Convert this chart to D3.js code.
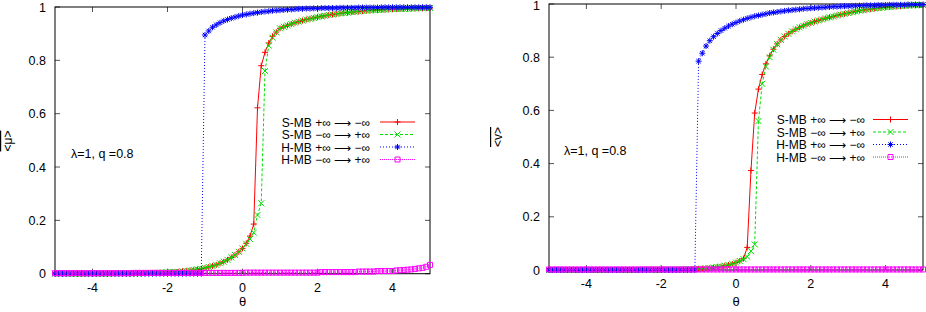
<!DOCTYPE html>
<html>
<head>
<meta charset="utf-8">
<script src="https://cdn.jsdelivr.net/npm/d3@7"></script>
<style>
  body { margin: 0; background: #fff; }
  svg { display: block; }
  text { font-family: "Liberation Sans", Arial, sans-serif; }
</style>
</head>
<body>
<div id="svg_container"></div>
<script>
// theta grid (x values)
const theta = [
  -5, -4.9, -4.8, -4.7, -4.6, -4.5, -4.4, -4.3, -4.2, -4.1,
  -4, -3.9, -3.8, -3.7, -3.6, -3.5, -3.4, -3.3, -3.2, -3.1,
  -3, -2.9, -2.8, -2.7, -2.6, -2.5, -2.4, -2.3, -2.2, -2.1,
  -2, -1.9, -1.8, -1.7, -1.6, -1.5, -1.4, -1.3, -1.2, -1.1,
  -1, -0.9, -0.8, -0.7, -0.6, -0.5, -0.4, -0.3, -0.2, -0.1,
  0, 0.1, 0.2, 0.3, 0.4, 0.5, 0.6, 0.7, 0.8, 0.9,
  1, 1.1, 1.2, 1.3, 1.4, 1.5, 1.6, 1.7, 1.8, 1.9,
  2, 2.1, 2.2, 2.3, 2.4, 2.5, 2.6, 2.7, 2.8, 2.9,
  3, 3.1, 3.2, 3.3, 3.4, 3.5, 3.6, 3.7, 3.8, 3.9,
  4, 4.1, 4.2, 4.3, 4.4, 4.5, 4.6, 4.7, 4.8, 4.9,
  5
];

// left panel: <mu>
const muSdown = [
  0, 0, 0, 0, 0, 0, 0, 0, 0, 0,
  0, 0, 0, 0, 0, 0.001, 0.001, 0.001, 0.001, 0.001,
  0.001, 0.001, 0.001, 0.002, 0.002, 0.002, 0.003, 0.003, 0.004, 0.004,
  0.005, 0.006, 0.006, 0.007, 0.009, 0.010, 0.012, 0.014, 0.016, 0.018,
  0.021, 0.025, 0.029, 0.033, 0.039, 0.045, 0.052, 0.061, 0.070, 0.082,
  0.095, 0.114, 0.141, 0.186, 0.622, 0.780, 0.830, 0.865, 0.890, 0.906,
  0.920, 0.926, 0.931, 0.936, 0.941, 0.945, 0.949, 0.953, 0.956, 0.959,
  0.962, 0.965, 0.967, 0.970, 0.972, 0.974, 0.976, 0.978, 0.979, 0.981,
  0.982, 0.983, 0.985, 0.986, 0.987, 0.988, 0.989, 0.989, 0.990, 0.991,
  0.992, 0.992, 0.993, 0.993, 0.994, 0.994, 0.995, 0.995, 0.995, 0.996,
  0.996
];
const muSup = [
  0, 0, 0, 0, 0, 0, 0, 0, 0, 0,
  0, 0, 0, 0, 0, 0.001, 0.001, 0.001, 0.001, 0.001,
  0.001, 0.001, 0.001, 0.002, 0.002, 0.002, 0.003, 0.003, 0.004, 0.004,
  0.005, 0.006, 0.006, 0.007, 0.009, 0.010, 0.012, 0.014, 0.016, 0.018,
  0.021, 0.025, 0.029, 0.033, 0.039, 0.045, 0.052, 0.061, 0.070, 0.082,
  0.095, 0.112, 0.130, 0.154, 0.220, 0.264, 0.760, 0.855, 0.885, 0.905,
  0.920, 0.926, 0.931, 0.936, 0.941, 0.945, 0.949, 0.953, 0.956, 0.959,
  0.962, 0.965, 0.967, 0.970, 0.972, 0.974, 0.976, 0.978, 0.979, 0.981,
  0.982, 0.983, 0.985, 0.986, 0.987, 0.988, 0.989, 0.989, 0.990, 0.991,
  0.992, 0.992, 0.993, 0.993, 0.994, 0.994, 0.995, 0.995, 0.995, 0.996,
  0.996
];
const muHdown = [
  0, 0, 0, 0, 0, 0, 0, 0, 0, 0,
  0, 0, 0, 0, 0, 0, 0, 0, 0, 0,
  0, 0, 0, 0, 0, 0, 0, 0, 0, 0,
  0, 0, 0, 0, 0, 0, 0, 0, 0, 0,
  0.895, 0.910, 0.924, 0.933, 0.941, 0.948, 0.953, 0.958, 0.962, 0.966,
  0.970, 0.972, 0.975, 0.977, 0.979, 0.981, 0.983, 0.984, 0.986, 0.987,
  0.988, 0.989, 0.990, 0.991, 0.992, 0.993, 0.993, 0.994, 0.994, 0.995,
  0.995, 0.996, 0.996, 0.996, 0.996, 0.996, 0.997, 0.997, 0.997, 0.997,
  0.997, 0.998, 0.998, 0.998, 0.998, 0.998, 0.998, 0.999, 0.999, 0.999,
  0.999, 0.999, 0.999, 0.999, 0.999, 0.999, 0.999, 0.999, 0.999, 0.999,
  0.999
];
const muHup = [
  0.002, 0.002, 0.002, 0.002, 0.002, 0.002, 0.002, 0.002, 0.002, 0.002,
  0.002, 0.002, 0.002, 0.002, 0.002, 0.002, 0.002, 0.002, 0.002, 0.002,
  0.002, 0.003, 0.003, 0.003, 0.003, 0.003, 0.003, 0.003, 0.003, 0.003,
  0.003, 0.003, 0.003, 0.003, 0.003, 0.003, 0.003, 0.003, 0.003, 0.003,
  0.003, 0.003, 0.003, 0.003, 0.003, 0.003, 0.003, 0.003, 0.003, 0.003,
  0.003, 0.004, 0.004, 0.004, 0.004, 0.004, 0.004, 0.004, 0.004, 0.004,
  0.004, 0.004, 0.004, 0.004, 0.004, 0.004, 0.004, 0.004, 0.004, 0.004,
  0.004, 0.006, 0.006, 0.006, 0.006, 0.006, 0.006, 0.006, 0.006, 0.006,
  0.006, 0.008, 0.008, 0.008, 0.008, 0.008, 0.010, 0.010, 0.010, 0.010,
  0.010, 0.012, 0.013, 0.014, 0.015, 0.016, 0.018, 0.020, 0.022, 0.026,
  0.033
];

// right panel: <v> bar
const vSdown = [
  0, 0, 0, 0, 0, 0, 0, 0, 0, 0,
  0, 0, 0, 0, 0, 0, 0, 0, 0, 0,
  0, 0, 0, 0, 0, 0.001, 0.001, 0.001, 0.001, 0.001,
  0.001, 0.001, 0.001, 0.001, 0.001, 0.002, 0.002, 0.002, 0.003, 0.003,
  0.004, 0.005, 0.006, 0.007, 0.009, 0.011, 0.013, 0.016, 0.019, 0.023,
  0.028, 0.034, 0.043, 0.085, 0.374, 0.590, 0.680, 0.735, 0.775, 0.805,
  0.830, 0.850, 0.865, 0.878, 0.888, 0.897, 0.905, 0.912, 0.918, 0.924,
  0.929, 0.934, 0.938, 0.942, 0.946, 0.950, 0.953, 0.957, 0.960, 0.963,
  0.966, 0.969, 0.972, 0.975, 0.977, 0.979, 0.981, 0.983, 0.985, 0.986,
  0.988, 0.989, 0.990, 0.991, 0.992, 0.993, 0.994, 0.995, 0.995, 0.996,
  0.996
];
const vSup = [
  0, 0, 0, 0, 0, 0, 0, 0, 0, 0,
  0, 0, 0, 0, 0, 0, 0, 0, 0, 0,
  0, 0, 0, 0, 0, 0.001, 0.001, 0.001, 0.001, 0.001,
  0.001, 0.001, 0.001, 0.001, 0.001, 0.002, 0.002, 0.002, 0.003, 0.003,
  0.004, 0.005, 0.006, 0.007, 0.009, 0.011, 0.013, 0.016, 0.019, 0.023,
  0.028, 0.034, 0.041, 0.050, 0.071, 0.096, 0.560, 0.700, 0.765, 0.800,
  0.828, 0.849, 0.865, 0.878, 0.888, 0.897, 0.905, 0.912, 0.918, 0.924,
  0.929, 0.934, 0.938, 0.942, 0.946, 0.950, 0.953, 0.957, 0.960, 0.963,
  0.966, 0.969, 0.972, 0.975, 0.977, 0.979, 0.981, 0.983, 0.985, 0.986,
  0.988, 0.989, 0.990, 0.991, 0.992, 0.993, 0.994, 0.995, 0.995, 0.996,
  0.996
];
const vHdown = [
  0, 0, 0, 0, 0, 0, 0, 0, 0, 0,
  0, 0, 0, 0, 0, 0, 0, 0, 0, 0,
  0, 0, 0, 0, 0, 0, 0, 0, 0, 0,
  0, 0, 0, 0, 0, 0, 0, 0, 0, 0,
  0.785, 0.815, 0.842, 0.862, 0.877, 0.889, 0.900, 0.909, 0.917, 0.924,
  0.930, 0.936, 0.941, 0.946, 0.950, 0.954, 0.957, 0.960, 0.963, 0.966,
  0.968, 0.970, 0.972, 0.974, 0.976, 0.977, 0.979, 0.980, 0.982, 0.983,
  0.984, 0.985, 0.986, 0.987, 0.988, 0.989, 0.990, 0.990, 0.991, 0.992,
  0.992, 0.993, 0.993, 0.994, 0.994, 0.995, 0.995, 0.995, 0.996, 0.996,
  0.996, 0.997, 0.997, 0.997, 0.997, 0.997, 0.998, 0.998, 0.998, 0.998,
  0.998
];
const vHup = [
  0.002, 0.002, 0.002, 0.002, 0.002, 0.002, 0.002, 0.002, 0.002, 0.002,
  0.002, 0.002, 0.002, 0.002, 0.002, 0.002, 0.002, 0.002, 0.002, 0.002,
  0.002, 0.002, 0.002, 0.002, 0.002, 0.002, 0.002, 0.002, 0.002, 0.002,
  0.002, 0.002, 0.002, 0.002, 0.002, 0.002, 0.002, 0.002, 0.002, 0.002,
  0.002, 0.002, 0.002, 0.002, 0.002, 0.002, 0.002, 0.002, 0.002, 0.002,
  0.002, 0.002, 0.002, 0.002, 0.002, 0.002, 0.002, 0.002, 0.002, 0.002,
  0.002, 0.002, 0.002, 0.002, 0.002, 0.002, 0.002, 0.002, 0.002, 0.002,
  0.002, 0.002, 0.002, 0.002, 0.002, 0.002, 0.002, 0.002, 0.002, 0.002,
  0.002, 0.002, 0.002, 0.002, 0.002, 0.002, 0.002, 0.002, 0.002, 0.002,
  0.002, 0.002, 0.002, 0.002, 0.002, 0.002, 0.002, 0.002, 0.002, 0.002,
  0.002
];

const legendLabels = ["S-MB +\u221E \u27F6 \u2212\u221E", "S-MB \u2212\u221E \u27F6 +\u221E",
                      "H-MB +\u221E \u27F6 \u2212\u221E", "H-MB \u2212\u221E \u27F6 +\u221E"];
const xTicks = [-4, -2, 0, 2, 4];
const yTicks = [0, 0.2, 0.4, 0.6, 0.8, 1];
const annotation = "\u03BB=1, q =0.8";

const styles = [
    {color: "#ff0000", dash: null, marker: "plus"},
    {color: "#00e000", dash: "3,2", marker: "cross"},
    {color: "#0000ff", dash: "1,2", marker: "star"},
    {color: "#ff00ff", dash: "1,1", marker: "square"}
];

function markerPath(type) {
    let s = 3;
    if (type === "plus") return "M" + (-s) + ",0H" + s + "M0," + (-s) + "V" + s;
    if (type === "cross") return "M" + (-s) + "," + (-s) + "L" + s + "," + s + "M" + (-s) + "," + s + "L" + s + "," + (-s);
    if (type === "star") return "M-3,0H3M0,-3V3M-2.2,-2.2L2.2,2.2M-2.2,2.2L2.2,-2.2";
    return "M-2.5,-2.5H2.5V2.5H-2.5Z";
}

let svg = d3.select("#svg_container")
    .append("svg")
    .attr("width", 926)
    .attr("height", 312);

function drawPanel(p) {
    let x = d3.scaleLinear().domain([-5, 5]).range([p.left, p.right]);
    let y = d3.scaleLinear().domain([0, 1]).range([p.bottom, p.top]);
    let g = svg.append("g");

    // ticks (inside, mirrored)
    xTicks.forEach(function (t) {
        g.append("line").attr("x1", x(t)).attr("x2", x(t)).attr("y1", p.bottom).attr("y2", p.bottom - 5)
            .attr("stroke", "#555");
        g.append("line").attr("x1", x(t)).attr("x2", x(t)).attr("y1", p.top).attr("y2", p.top + 5)
            .attr("stroke", "#555");
        g.append("text").attr("x", x(t)).attr("y", p.bottom + 18)
            .attr("text-anchor", "middle").attr("font-size", "12.5px").text(t);
    });
    yTicks.forEach(function (t) {
        g.append("line").attr("x1", p.left).attr("x2", p.left + 5).attr("y1", y(t)).attr("y2", y(t))
            .attr("stroke", "#555");
        g.append("line").attr("x1", p.right).attr("x2", p.right - 5).attr("y1", y(t)).attr("y2", y(t))
            .attr("stroke", "#555");
        g.append("text").attr("x", p.left - 9).attr("y", Math.max(y(t) + 4.5, 10))
            .attr("text-anchor", "end").attr("font-size", "12.5px").text(t);
    });

    // frame
    g.append("rect")
        .attr("x", p.left).attr("y", p.top)
        .attr("width", p.right - p.left).attr("height", p.bottom - p.top)
        .attr("fill", "none").attr("stroke", "#000").attr("stroke-width", 1);

    // axis labels
    g.append("text").attr("x", (p.left + p.right) / 2).attr("y", 306)
        .attr("text-anchor", "middle").attr("font-size", "13px").text("\u03B8");
    g.append("text")
        .attr("transform", "translate(" + p.ylabX + "," + p.ylabY + ") rotate(-90)")
        .attr("text-anchor", "middle").attr("font-size", "12px")
        .style("text-decoration", "overline")
        .text(p.ylabel);

    g.append("text").attr("x", p.annX).attr("y", p.annY)
        .attr("font-size", "12.5px").text(annotation);

    // series
    let line = d3.line()
        .x(function (d, i) { return x(theta[i]); })
        .y(function (d) { return y(d); });

    p.series.forEach(function (vals, k) {
        let st = styles[k];
        let path = g.append("path")
            .datum(vals)
            .attr("fill", "none")
            .attr("stroke", st.color)
            .attr("stroke-width", 1)
            .attr("d", line);
        if (st.dash) path.attr("stroke-dasharray", st.dash);

        g.append("g")
            .selectAll("path")
            .data(vals)
            .enter()
            .append("path")
            .attr("d", markerPath(st.marker))
            .attr("transform", function (d, i) {
                return "translate(" + x(theta[i]) + "," + y(d) + ")";
            })
            .attr("fill", "none")
            .attr("stroke", st.color)
            .attr("stroke-width", 1);

        // legend entry
        let ly = p.legY + k * p.legStep;
        g.append("text").attr("x", p.legTextX).attr("y", ly + 4.5)
            .attr("text-anchor", "end").attr("font-size", "12px").text(legendLabels[k]);
        let ls = g.append("line")
            .attr("x1", p.legLineX).attr("x2", p.legLineX + 35)
            .attr("y1", ly).attr("y2", ly)
            .attr("stroke", st.color).attr("stroke-width", 1);
        if (st.dash) ls.attr("stroke-dasharray", st.dash);
        g.append("path")
            .attr("d", markerPath(st.marker))
            .attr("transform", "translate(" + (p.legLineX + 17.5) + "," + ly + ")")
            .attr("fill", "none").attr("stroke", st.color);
    });
}

drawPanel({
    left: 55, right: 430, top: 7, bottom: 273.7,
    ylabel: "<\u03BC>", ylabX: 12, ylabY: 141,
    annX: 71, annY: 158,
    legY: 122, legStep: 12.5, legTextX: 370, legLineX: 380,
    series: [muSdown, muSup, muHdown, muHup]
});

drawPanel({
    left: 549, right: 923, top: 4, bottom: 270,
    ylabel: "<v>", ylabX: 502, ylabY: 137,
    annX: 564, annY: 155,
    legY: 119.5, legStep: 12.5, legTextX: 865, legLineX: 873,
    series: [vSdown, vSup, vHdown, vHup]
});
</script>
</body>
</html>
